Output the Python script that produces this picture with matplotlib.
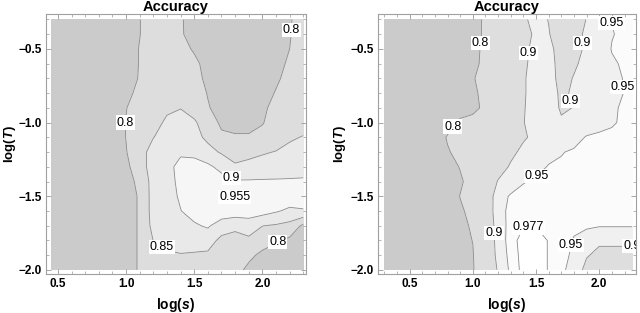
import numpy as np
import matplotlib
matplotlib.use("Agg")
import matplotlib.pyplot as plt
from matplotlib.ticker import MultipleLocator

plt.rcParams['font.family'] = ['Liberation Sans', 'DejaVu Sans']
plt.rcParams['mathtext.fontset'] = 'custom'
plt.rcParams['mathtext.it'] = 'Liberation Sans:italic:bold'
plt.rcParams['mathtext.rm'] = 'Liberation Sans:bold'

# ---- data: accuracy on a log(s) x log(T) grid ----
log_T = [-2.0, -1.9, -1.8, -1.7, -1.6, -1.5, -1.4, -1.3, -1.2, -1.1,
         -1.0, -0.9, -0.8, -0.7, -0.6, -0.5, -0.4, -0.3]

# left panel
log_s_left = [0.45, 0.6, 0.75, 0.9, 1.0, 1.1, 1.2, 1.3, 1.4, 1.5, 1.6, 1.7,
              1.8, 1.9, 2.0, 2.1, 2.2, 2.3]
acc_left = [
    [0.76, 0.76, 0.765, 0.77, 0.78, 0.805, 0.83, 0.835, 0.835, 0.835, 0.83, 0.825, 0.815, 0.79, 0.775, 0.77, 0.77, 0.775],
    [0.76, 0.76, 0.765, 0.77, 0.78, 0.805, 0.835, 0.845, 0.848, 0.845, 0.84, 0.83, 0.825, 0.81, 0.79, 0.78, 0.775, 0.775],
    [0.76, 0.76, 0.765, 0.77, 0.78, 0.805, 0.851, 0.86, 0.865, 0.87, 0.875, 0.835, 0.835, 0.84, 0.82, 0.805, 0.79, 0.78],
    [0.76, 0.76, 0.765, 0.77, 0.78, 0.805, 0.865, 0.875, 0.885, 0.895, 0.905, 0.88, 0.86, 0.875, 0.851, 0.845, 0.835, 0.79],
    [0.76, 0.76, 0.765, 0.77, 0.78, 0.805, 0.87, 0.88, 0.899, 0.915, 0.925, 0.925, 0.93, 0.925, 0.92, 0.905, 0.89, 0.895],
    [0.76, 0.76, 0.765, 0.77, 0.78, 0.805, 0.87, 0.885, 0.905, 0.935, 0.94, 0.945, 0.957, 0.94, 0.935, 0.93, 0.93, 0.93],
    [0.76, 0.76, 0.765, 0.77, 0.785, 0.81, 0.87, 0.885, 0.91, 0.93, 0.935, 0.92, 0.905, 0.905, 0.905, 0.905, 0.905, 0.905],
    [0.76, 0.76, 0.765, 0.77, 0.79, 0.825, 0.875, 0.89, 0.91, 0.915, 0.91, 0.885, 0.855, 0.86, 0.87, 0.875, 0.88, 0.885],
    [0.76, 0.76, 0.765, 0.775, 0.798, 0.83, 0.87, 0.88, 0.895, 0.89, 0.865, 0.845, 0.835, 0.84, 0.845, 0.852, 0.86, 0.865],
    [0.76, 0.76, 0.765, 0.775, 0.801, 0.825, 0.849, 0.865, 0.87, 0.865, 0.84, 0.81, 0.805, 0.805, 0.81, 0.825, 0.845, 0.852],
    [0.76, 0.76, 0.765, 0.775, 0.801, 0.82, 0.84, 0.855, 0.862, 0.855, 0.83, 0.79, 0.785, 0.785, 0.798, 0.815, 0.825, 0.835],
    [0.76, 0.76, 0.765, 0.775, 0.799, 0.815, 0.835, 0.845, 0.849, 0.835, 0.803, 0.785, 0.78, 0.785, 0.795, 0.808, 0.82, 0.83],
    [0.76, 0.76, 0.765, 0.77, 0.79, 0.81, 0.83, 0.84, 0.835, 0.82, 0.798, 0.78, 0.78, 0.78, 0.788, 0.802, 0.815, 0.83],
    [0.76, 0.76, 0.765, 0.77, 0.783, 0.803, 0.825, 0.835, 0.83, 0.815, 0.79, 0.775, 0.775, 0.775, 0.78, 0.795, 0.81, 0.825],
    [0.76, 0.76, 0.765, 0.77, 0.78, 0.802, 0.82, 0.83, 0.825, 0.81, 0.785, 0.775, 0.775, 0.775, 0.78, 0.79, 0.805, 0.82],
    [0.76, 0.76, 0.765, 0.77, 0.78, 0.802, 0.82, 0.83, 0.815, 0.795, 0.775, 0.775, 0.775, 0.775, 0.78, 0.785, 0.8, 0.82],
    [0.76, 0.76, 0.765, 0.77, 0.78, 0.799, 0.82, 0.83, 0.806, 0.78, 0.775, 0.775, 0.775, 0.775, 0.78, 0.785, 0.798, 0.815],
    [0.76, 0.76, 0.765, 0.77, 0.78, 0.799, 0.82, 0.83, 0.805, 0.78, 0.775, 0.775, 0.775, 0.775, 0.78, 0.785, 0.796, 0.82],
]
levels_left = [0.8, 0.85, 0.9, 0.955]

# right panel
log_s_right = [0.3, 0.45, 0.6, 0.7, 0.8, 0.9, 1.0, 1.1, 1.2, 1.3, 1.4, 1.5,
               1.6, 1.7, 1.8, 1.9, 2.0, 2.1, 2.2, 2.26]
acc_right = [
    [0.76, 0.76, 0.76, 0.765, 0.77, 0.78, 0.795, 0.85, 0.905, 0.96, 0.985, 0.985, 0.976, 0.955, 0.94, 0.88, 0.87, 0.87, 0.87, 0.87],
    [0.76, 0.76, 0.76, 0.765, 0.77, 0.78, 0.797, 0.85, 0.915, 0.965, 0.985, 0.985, 0.976, 0.958, 0.945, 0.905, 0.885, 0.885, 0.885, 0.885],
    [0.76, 0.76, 0.76, 0.765, 0.775, 0.785, 0.801, 0.85, 0.92, 0.97, 0.984, 0.985, 0.976, 0.96, 0.948, 0.94, 0.91, 0.91, 0.91, 0.91],
    [0.76, 0.76, 0.76, 0.765, 0.775, 0.79, 0.805, 0.85, 0.925, 0.965, 0.976, 0.976, 0.972, 0.962, 0.955, 0.953, 0.953, 0.953, 0.953, 0.953],
    [0.76, 0.76, 0.76, 0.765, 0.775, 0.795, 0.81, 0.85, 0.935, 0.96, 0.965, 0.965, 0.965, 0.962, 0.96, 0.96, 0.96, 0.96, 0.96, 0.96],
    [0.76, 0.76, 0.76, 0.765, 0.78, 0.801, 0.82, 0.855, 0.93, 0.955, 0.96, 0.962, 0.965, 0.965, 0.962, 0.962, 0.962, 0.962, 0.962, 0.962],
    [0.76, 0.76, 0.76, 0.765, 0.78, 0.795, 0.815, 0.86, 0.903, 0.925, 0.948, 0.955, 0.96, 0.962, 0.962, 0.962, 0.962, 0.962, 0.962, 0.962],
    [0.76, 0.76, 0.76, 0.765, 0.785, 0.802, 0.82, 0.85, 0.88, 0.905, 0.925, 0.94, 0.952, 0.955, 0.958, 0.96, 0.96, 0.96, 0.96, 0.96],
    [0.76, 0.76, 0.76, 0.77, 0.797, 0.81, 0.825, 0.845, 0.87, 0.89, 0.91, 0.925, 0.94, 0.948, 0.955, 0.96, 0.96, 0.96, 0.96, 0.96],
    [0.76, 0.76, 0.76, 0.78, 0.803, 0.815, 0.825, 0.84, 0.86, 0.88, 0.895, 0.91, 0.925, 0.93, 0.935, 0.953, 0.958, 0.96, 0.96, 0.96],
    [0.76, 0.76, 0.76, 0.77, 0.785, 0.81, 0.815, 0.83, 0.855, 0.88, 0.899, 0.912, 0.92, 0.905, 0.912, 0.925, 0.935, 0.945, 0.958, 0.962],
    [0.76, 0.76, 0.76, 0.765, 0.77, 0.775, 0.788, 0.81, 0.845, 0.875, 0.898, 0.912, 0.92, 0.895, 0.901, 0.925, 0.935, 0.945, 0.955, 0.96],
    [0.76, 0.76, 0.76, 0.765, 0.77, 0.775, 0.792, 0.812, 0.845, 0.875, 0.897, 0.912, 0.918, 0.893, 0.905, 0.92, 0.93, 0.94, 0.951, 0.958],
    [0.76, 0.76, 0.76, 0.765, 0.77, 0.78, 0.797, 0.815, 0.845, 0.875, 0.897, 0.912, 0.915, 0.888, 0.902, 0.915, 0.93, 0.94, 0.952, 0.958],
    [0.76, 0.76, 0.76, 0.765, 0.77, 0.78, 0.79, 0.81, 0.84, 0.87, 0.895, 0.91, 0.915, 0.885, 0.895, 0.91, 0.93, 0.945, 0.955, 0.96],
    [0.76, 0.76, 0.76, 0.765, 0.77, 0.78, 0.787, 0.81, 0.84, 0.87, 0.892, 0.91, 0.91, 0.885, 0.89, 0.905, 0.925, 0.952, 0.955, 0.96],
    [0.76, 0.76, 0.76, 0.765, 0.77, 0.78, 0.785, 0.807, 0.84, 0.87, 0.89, 0.905, 0.902, 0.88, 0.89, 0.905, 0.925, 0.948, 0.958, 0.96],
    [0.76, 0.76, 0.76, 0.765, 0.77, 0.78, 0.785, 0.807, 0.84, 0.87, 0.895, 0.91, 0.899, 0.88, 0.885, 0.901, 0.93, 0.951, 0.96, 0.96],
]
levels_right = [0.8, 0.9, 0.95, 0.977]


def draw_panel(ax, xs, ys, zs, levels, shades, label_spots, xlim, ylab_x):
    X, Y = np.meshgrid(xs, ys)
    Z = np.array(zs)
    ax.contourf(X, Y, Z, levels=[0.0] + levels + [1.0], colors=shades)
    cs = ax.contour(X, Y, Z, levels=levels, colors='#8a8a8a', linewidths=0.6)
    labels = ax.clabel(cs, fmt=lambda v: ('%g' % v), fontsize=9,
                       inline=False, manual=label_spots)
    # Mathematica style: upright labels on a white box
    for t in labels:
        t.set_rotation(0)
        t.set_color('black')
        t.set_bbox(dict(facecolor='white', edgecolor='none', pad=0.8))

    ax.set_xlim(*xlim)
    ax.set_ylim(-2.03, -0.265)
    ax.xaxis.set_major_locator(MultipleLocator(0.5))
    ax.xaxis.set_minor_locator(MultipleLocator(0.1))
    ax.yaxis.set_major_locator(MultipleLocator(0.5))
    ax.yaxis.set_minor_locator(MultipleLocator(0.1))
    ax.tick_params(which='both', direction='in', top=True, right=True,
                   color='#999999', labelsize=8.5, pad=3)
    ax.tick_params(which='major', length=3.5, width=0.6)
    ax.tick_params(which='minor', length=2, width=0.5)
    for lab in ax.get_xticklabels() + ax.get_yticklabels():
        lab.set_fontweight('bold')
    for sp in ax.spines.values():
        sp.set_color('#a0a0a0')
        sp.set_linewidth(0.8)
    ax.set_title('Accuracy', fontsize=10.5, fontweight='bold', pad=2)
    ax.set_xlabel('log($s$)', fontsize=10, fontweight='bold', labelpad=4)
    ax.set_ylabel('log($T$)', fontsize=9.5, fontweight='bold')
    ax.yaxis.set_label_coords(ylab_x, 0.5)


fig = plt.figure(figsize=(6.4, 3.13), dpi=100)
ax1 = fig.add_axes([0.0714, 0.1236, 0.4067, 0.8307])
ax2 = fig.add_axes([0.5906, 0.1236, 0.403, 0.8307])

draw_panel(ax1, log_s_left, log_T, acc_left, levels_left,
           ['#cbcbcb', '#dddddd', '#e9e9e9', '#f6f6f6', '#ffffff'],
           [(0.99, -1.0), (2.2, -0.37), (1.3, -1.79), (2.16, -1.88),
            (1.76, -1.40), (1.79, -1.52)],
           (0.41, 2.32), -0.108)

draw_panel(ax2, log_s_right, log_T, acc_right, levels_right,
           ['#cbcbcb', '#dedede', '#f0f0f0', '#fbfbfb', '#ffffff'],
           [(1.05, -0.46), (0.94, -1.08), (1.44, -0.53), (1.94, -0.46),
            (1.75, -0.86), (1.17, -1.75), (2.26, -1.86), (2.12, -0.32),
            (2.16, -0.76), (1.55, -1.4), (1.71, -1.82), (1.44, -1.72)],
           (0.25, 2.29), -0.118)

fig.savefig('out.png', dpi=100)
